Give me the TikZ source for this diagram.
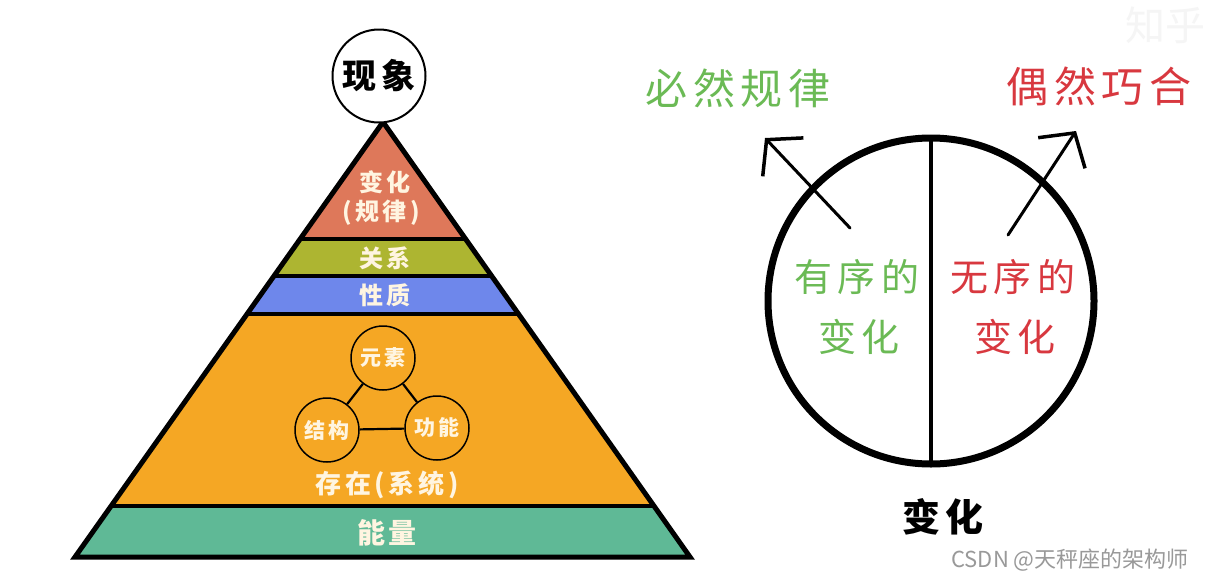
\documentclass[tikz,border=0pt]{standalone}
\usepackage{fontspec}
\newfontfamily\cjk{Noto Sans CJK SC}
\newfontfamily\cjkw[LetterSpace=14]{Noto Sans CJK SC}
\usetikzlibrary{arrows.meta,calc}
\definecolor{pred}{HTML}{DE785A}
\definecolor{polive}{HTML}{ADB531}
\definecolor{pblue}{HTML}{6E87EB}
\definecolor{porange}{HTML}{F5A724}
\definecolor{pgreen}{HTML}{5FB996}
\definecolor{cream}{HTML}{FFF5E1}
\definecolor{cgreen}{HTML}{6BBA55}
\definecolor{cred}{HTML}{D8383F}
\newcommand\pyrband[3]{\fill[#3] ($(apex)!#1!(bl)$) -- ($(apex)!#1!(br)$) -- ($(apex)!#2!(br)$) -- ($(apex)!#2!(bl)$) -- cycle;}
\newcommand\pyrsep[1]{\draw[line width=4pt] ($(apex)!#1!(bl)$) -- ($(apex)!#1!(br)$);}
\begin{document}
\begin{tikzpicture}[x=1pt,y=-1pt,
  ptext/.style={text=cream, font=\cjkw\bfseries\fontsize{24}{24}\selectfont, inner sep=0},
  smallc/.style={circle, draw, line width=1.5pt, minimum size=64pt, inner sep=0, fill=porange, text=cream, font=\cjkw\bfseries\fontsize{21}{21}\selectfont},
  link/.style={line width=2.2pt},
  bigtext/.style={font=\cjkw\fontsize{42}{42}\selectfont, inner sep=0},
  midtext/.style={font=\cjkw\fontsize{38}{38}\selectfont, inner sep=0},
  arr/.style={line width=3pt, line cap=round, -{Straight Barb[length=24pt,width=56pt,line width=3.5pt]}}
]
\useasboundingbox (0,0) rectangle (1228,584);
\fill[white] (0,0) rectangle (1228,584);
% pyramid
\coordinate (apex) at (383,122);
\coordinate (bl) at (75,557);
\coordinate (br) at (690,557);
\pyrband{0}{0.2678}{pred}
\pyrband{0.2678}{0.3540}{polive}
\pyrband{0.3540}{0.4425}{pblue}
\pyrband{0.4425}{0.8828}{porange}
\pyrband{0.8828}{1}{pgreen}
\pyrsep{0.2678}
\pyrsep{0.3540}
\pyrsep{0.4425}
\pyrsep{0.8828}
\draw[line width=5pt, line join=miter] (apex) -- (bl) -- (br) -- cycle;
\node[circle, draw, line width=2pt, minimum size=93pt, inner sep=0, fill=white,
  font=\cjkw\bfseries\fontsize{34}{34}\selectfont] (xianxiang) at (379,76) {现象};
\node[ptext] (bianhua) at (385,182) {变化};
\node[ptext] (guilv) at (381,213) {(规律)};
\node[ptext] (guanxi) at (385,258) {关系};
\node[ptext] (xingzhi) at (385,295) {性质};
\node[smallc] (yuansu) at (383,358) {元素};
\node[smallc] (jiegou) at (327,430) {结构};
\node[smallc] (gongneng) at (437,428) {功能};
\draw[link] (yuansu) -- (jiegou);
\draw[link] (yuansu) -- (gongneng);
\draw[link] (jiegou) -- (gongneng);
\node[ptext, font=\cjkw\bfseries\fontsize{26}{26}\selectfont] (cunzai) at (387,485) {存在(系统)};
\node[ptext, font=\cjkw\bfseries\fontsize{28}{28}\selectfont] (nengliang) at (387,533) {能量};
% right part
\node[bigtext, text=cgreen] (biran) at (738,88) {必然规律};
\node[bigtext, text=cred] (ouran) at (1099,86) {偶然巧合};
\node[circle, draw, line width=7pt, minimum size=326pt, inner sep=0, outer sep=0] (big) at (931,301) {};
\draw[line width=4pt] (big.north) -- (big.south);
\coordinate (lt) at (850,228);
\coordinate (lh) at (765,138);
\coordinate (rt) at (1008,235);
\coordinate (rh) at (1076,131);
\draw[arr] (lt) -- (lh);
\draw[arr] (rt) -- (rh);
\node[midtext, text=cgreen] (yx1) at (857,277) {有序的};
\node[midtext, text=cgreen] (yx2) at (859,337) {变化};
\node[midtext, text=cred] (wx1) at (1013,277) {无序的};
\node[midtext, text=cred] (wx2) at (1015,337) {变化};
\node[font=\cjkw\bfseries\fontsize{38}{38}\selectfont, inner sep=0] (bh) at (943,517) {变化};
\node[text=black!40, font=\cjk\fontsize{22}{22}\selectfont, inner sep=0] (csdn) at (1070,560) {CSDN @天秤座的架构师};
\node[text=black!4, font=\cjk\fontsize{40}{40}\selectfont, inner sep=0] (zhihu) at (1165,25) {知乎};
\end{tikzpicture}
\end{document}
